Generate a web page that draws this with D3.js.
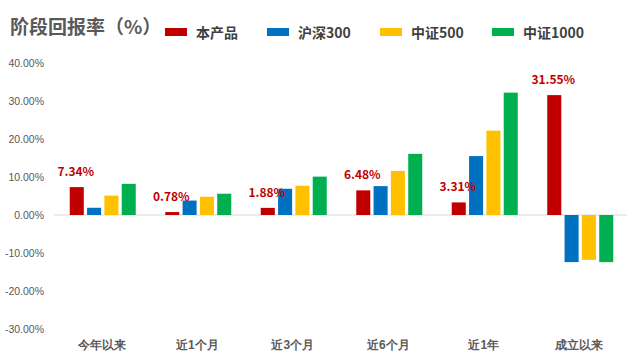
<!DOCTYPE html>
<html><head><meta charset="utf-8">
<script src="https://cdn.jsdelivr.net/npm/d3@7"></script>
<style>
body{margin:0;background:#fff;}
svg{display:block;font-family:"Noto Sans CJK SC","Noto Sans",sans-serif;}
</style></head>
<body>
<svg id="chart" width="640" height="361"></svg>
<script>
const categories = ["今年以来","近1个月","近3个月","近6个月","近1年","成立以来"];
const seriesNames = ["本产品","沪深300","中证500","中证1000"];
const colors = ["#c00000","#0070c0","#ffc000","#00b050"];
const product = [7.34, 0.78, 1.88, 6.48, 3.31, 31.55];
const hs300 = [1.9, 3.8, 6.9, 7.6, 15.5, -12.4];
const zz500 = [5.1, 4.8, 7.7, 11.6, 22.2, -11.8];
const zz1000 = [8.2, 5.6, 10.1, 16.1, 32.2, -12.4];
const yTicks = [40, 30, 20, 10, 0, -10, -20, -30];
const seriesValues = [product, hs300, zz500, zz1000];

const svg = d3.select("#chart");
const y = d3.scaleLinear().domain([-30, 40]).range([329, 63]);
const x = d3.scaleBand().domain(categories).range([54, 627]).paddingInner(0).paddingOuter(0);
const inner = d3.scaleBand().domain(seriesNames).range([0, 66]).paddingInner(0.19);
const offset = (x.bandwidth() - 66) / 2 + 1;

// title
svg.append("text").attr("x", 10).attr("y", 34)
  .attr("font-size", 19).attr("font-weight", "bold").attr("fill", "#595959")
  .text("阶段回报率（%）");

// legend
const legX = [165, 267, 380, 492];
seriesNames.forEach((n, i) => {
  svg.append("rect").attr("x", legX[i]).attr("y", 28).attr("width", 22).attr("height", 8).attr("fill", colors[i]);
  svg.append("text").attr("x", legX[i] + 31).attr("y", 38)
    .attr("font-size", 14).attr("fill", "#404040").attr("font-weight", "bold").text(n);
});

// y axis
const yAxis = d3.axisLeft(y).tickValues(yTicks).tickSize(0).tickPadding(0)
  .tickFormat(d => d.toFixed(2) + "%");
const ya = svg.append("g").attr("transform", "translate(44,0)").call(yAxis);
ya.select(".domain").remove();
ya.selectAll("text").attr("font-size", 10.5).attr("fill", "#595959")
  .attr("font-family", "'Liberation Sans','Noto Sans',sans-serif");

// zero line
svg.append("line").attr("x1", 54).attr("x2", 627).attr("y1", y(0)).attr("y2", y(0))
  .attr("stroke", "#d9d9d9").attr("stroke-width", 1.2);

// bars
seriesValues.forEach((vals, si) => {
  svg.append("g").selectAll("rect").data(vals).join("rect")
    .attr("x", (d, i) => x(categories[i]) + offset + inner(seriesNames[si]))
    .attr("width", inner.bandwidth())
    .attr("y", d => y(Math.max(0, d)))
    .attr("height", d => Math.abs(y(d) - y(0)))
    .attr("fill", colors[si]);
});

// data labels for product
svg.append("g").selectAll("text").data(product).join("text")
  .attr("x", (d, i) => x(categories[i]) + offset + inner(seriesNames[0]) + inner.bandwidth() / 2 - 1)
  .attr("y", d => y(d) - 11)
  .attr("text-anchor", "middle").attr("font-size", 12).attr("font-weight", "bold")
  .attr("fill", "#c00000")
  .text(d => d.toFixed(2) + "%");

// x axis labels
const xAxis = d3.axisBottom(x).tickSize(0).tickPadding(0);
const xa = svg.append("g").attr("transform", "translate(0,340)").call(xAxis);
xa.select(".domain").remove();
xa.selectAll("text").attr("font-size", 12).attr("font-weight", "bold").attr("fill", "#595959");
</script>
</body></html>
